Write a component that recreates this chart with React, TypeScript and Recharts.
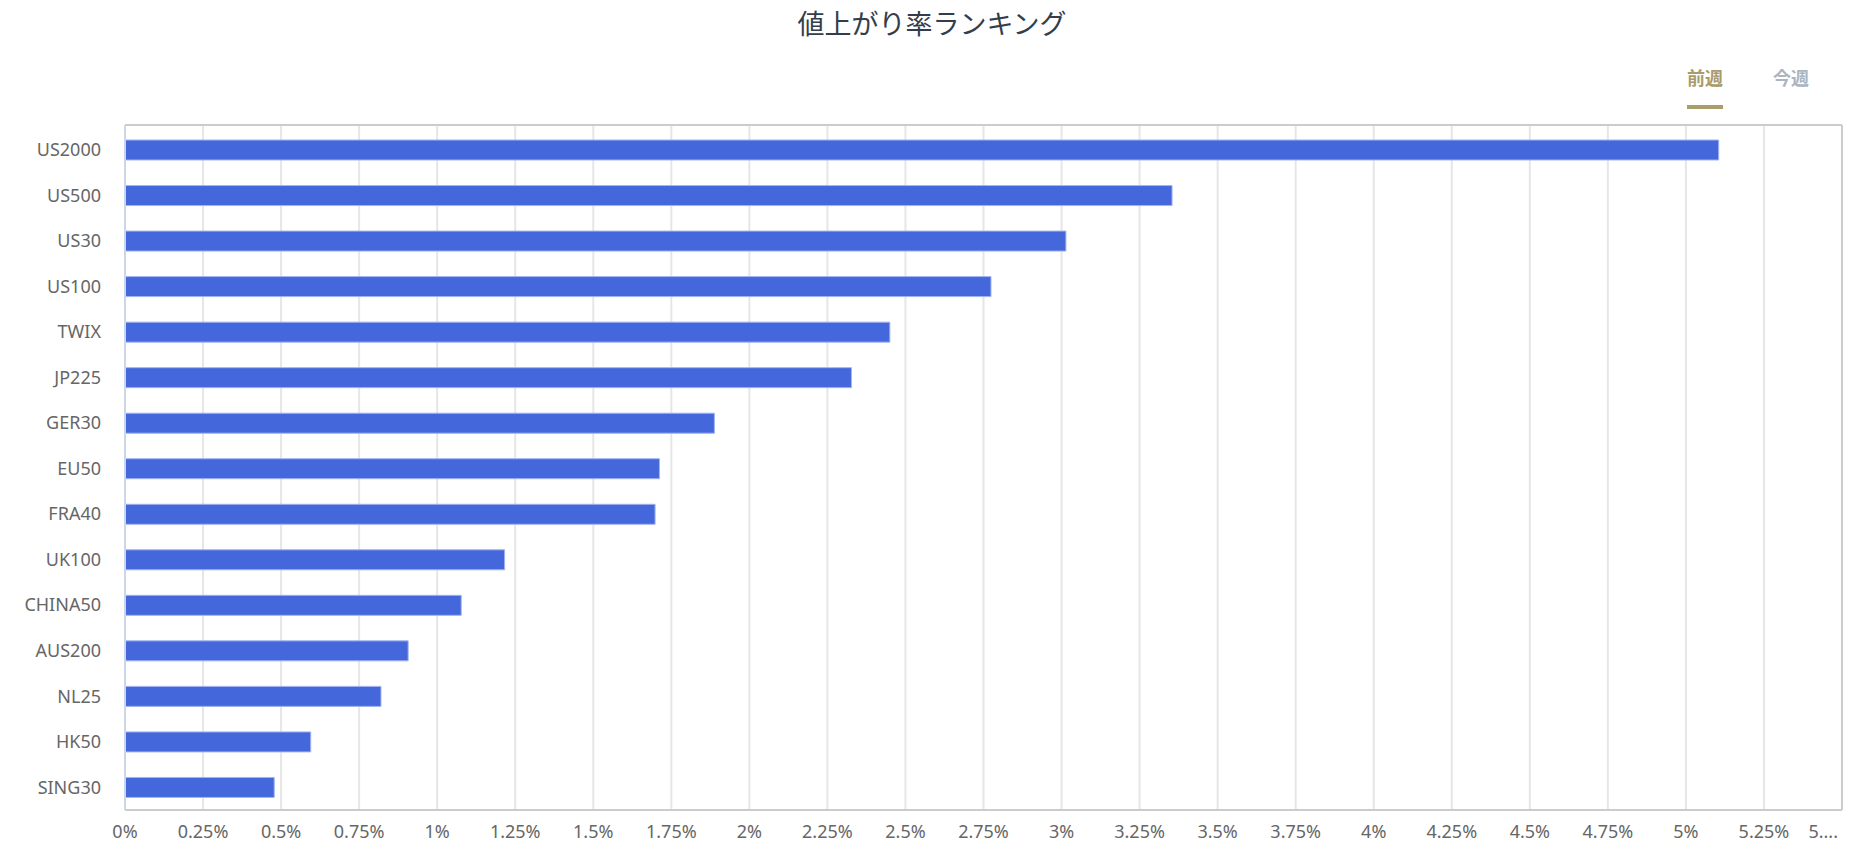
import React from 'react';
import {
  BarChart,
  Bar,
  XAxis,
  YAxis,
  CartesianGrid,
} from 'recharts';

// symbols, top to bottom
const symbols = [
  'US2000', 'US500', 'US30', 'US100', 'TWIX', 'JP225', 'GER30', 'EU50',
  'FRA40', 'UK100', 'CHINA50', 'AUS200', 'NL25', 'HK50', 'SING30',
];

// weekly rise rate in %
const riseRates = [
  5.105, 3.354, 3.014, 2.774, 2.45, 2.327, 1.888, 1.712,
  1.698, 1.216, 1.077, 0.907, 0.82, 0.595, 0.478,
];

const xTicks = [
  0, 0.25, 0.5, 0.75, 1, 1.25, 1.5, 1.75, 2, 2.25, 2.5, 2.75,
  3, 3.25, 3.5, 3.75, 4, 4.25, 4.5, 4.75, 5, 5.25, 5.5,
];
const xTickLabels = [
  '0%', '0.25%', '0.5%', '0.75%', '1%', '1.25%', '1.5%', '1.75%', '2%', '2.25%', '2.5%', '2.75%',
  '3%', '3.25%', '3.5%', '3.75%', '4%', '4.25%', '4.5%', '4.75%', '5%', '5.25%', '5....',
];

const tabs = ['前週', '今週'];

const data = symbols.map((name, i) => ({ name, value: riseRates[i] }));

const labelFont = '"Noto Sans", "Open Sans", sans-serif';

const XTick = (props: any) => {
  const { x, y, payload, index } = props;
  const last = index === xTicks.length - 1;
  return (
    <text
      x={last ? x - 4 : x}
      y={y + 7}
      dy="0.71em"
      textAnchor={last ? 'end' : 'middle'}
      fill="#666"
      fontSize={18}
      fontFamily={labelFont}
    >
      {xTickLabels[xTicks.indexOf(payload.value)]}
    </text>
  );
};

const App: React.FC = () => {
  return (
    <div
      style={{
        position: 'absolute',
        left: 0,
        top: 0,
        width: 1864,
        height: 868,
        background: '#fff',
        fontFamily: labelFont,
      }}
    >
      <div
        style={{
          position: 'absolute',
          top: 3,
          left: 0,
          width: 1864,
          textAlign: 'center',
          fontSize: 27,
          color: '#333d4c',
          fontFamily: '"Noto Sans CJK JP", sans-serif',
        }}
      >
        値上がり率ランキング
      </div>

      {/* week tabs */}
      {tabs.map((t, i) => (
        <div
          key={t}
          style={{
            position: 'absolute',
            top: 64,
            left: i === 0 ? 1687 : 1773,
            fontSize: 18,
            fontWeight: 700,
            color: i === 0 ? '#a99b6c' : '#aab5c2',
            fontFamily: '"Noto Sans CJK JP", sans-serif',
            lineHeight: '26px',
          }}
        >
          {t}
          {i === 0 && (
            <div style={{ height: 4, background: '#aa9d6c', marginTop: 15 }} />
          )}
        </div>
      ))}

      <div style={{ position: 'absolute', left: 0, top: 0 }}>
        <BarChart
          width={1864}
          height={868}
          data={data}
          layout="vertical"
          margin={{ top: 124, right: 21, bottom: 18, left: 0 }}
          barSize={20}
        >
          <CartesianGrid
            horizontal={false}
            stroke="#e6e6e6"
            strokeWidth={2}
          />
          <XAxis
            type="number"
            domain={[0, 5.5]}
            ticks={xTicks}
            interval={0}
            height={40}
            tickLine={false}
            axisLine={{ stroke: '#cccccc', strokeWidth: 2 }}
            tick={<XTick />}
          />
          <XAxis
            xAxisId="top"
            orientation="top"
            type="number"
            domain={[0, 5.5]}
            height={1}
            tick={false}
            tickLine={false}
            axisLine={{ stroke: '#cccccc', strokeWidth: 2 }}
          />
          <YAxis
            type="category"
            dataKey="name"
            width={125}
            interval={0}
            padding={{ top: 2, bottom: 0 }}
            tickLine={false}
            tickSize={6}
            tickMargin={18}
            axisLine={{ stroke: '#ccd6eb', strokeWidth: 2 }}
            tick={{ fill: '#666', fontSize: 18, fontFamily: labelFont }}
          />
          <YAxis
            yAxisId="right"
            orientation="right"
            type="category"
            dataKey="name"
            width={1}
            tick={false}
            tickLine={false}
            axisLine={{ stroke: '#cccccc', strokeWidth: 2 }}
          />
          <Bar
            dataKey="value"
            fill="#4468dc"
            stroke="#a2b3f0"
            strokeWidth={1}
            isAnimationActive={false}
          />
        </BarChart>
      </div>
    </div>
  );
};

export default App;
